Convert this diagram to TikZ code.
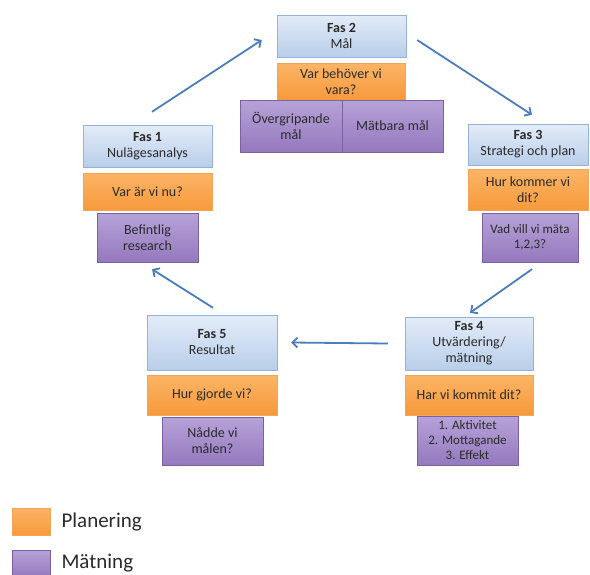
\documentclass[tikz,border=0pt]{standalone}
\usepackage{fontspec}
\setmainfont{Carlito}
\usetikzlibrary{arrows.meta}

\definecolor{fasblue}{HTML}{95B3D7}
\definecolor{fastop}{HTML}{E3ECF8}
\definecolor{fasbot}{HTML}{B9CEEA}
\definecolor{plantop}{HTML}{FBB465}
\definecolor{planbot}{HTML}{F79A3C}
\definecolor{planborder}{HTML}{F2A557}
\definecolor{mattop}{HTML}{B7A2D8}
\definecolor{matbot}{HTML}{9479BE}
\definecolor{matborder}{HTML}{7B61A0}
\definecolor{arrowblue}{HTML}{4A7EBB}
\definecolor{txt}{HTML}{2B2B2B}

\tikzset{
  fasbox/.style={draw=fasblue, top color=fastop, bottom color=fasbot,
    minimum width=129pt, minimum height=42pt, align=center, inner sep=1pt, text=txt},
  planbox/.style={draw=planborder, top color=plantop, bottom color=planbot,
    minimum width=129pt, minimum height=37pt, align=center, inner sep=1pt, text=txt},
  matbox/.style={draw=matborder, top color=mattop, bottom color=matbot,
    minimum width=101pt, minimum height=49pt, align=center, inner sep=1pt, text=txt},
  flow/.style={draw=arrowblue, line width=1.8pt, -{Straight Barb[length=5pt,width=10pt]}}
}

\begin{document}
\begin{tikzpicture}[x=1pt, y=-1pt, font=\fontsize{14}{16}\selectfont]
      \useasboundingbox (0,0) rectangle (590,574);

      % Fas 2
      \node[fasbox] (f2) at (341.5,36) {\textbf{Fas 2}\\Mål};
      \node[planbox, minimum width=128pt] (o2) at (341,81.5) {Var behöver vi\\vara?};
      \node[matbox, minimum height=52pt, minimum width=102pt] (p2a) at (291,126) {Övergripande\\mål};
      \node[matbox, minimum height=52pt] (p2b) at (392.5,126) {Mätbara mål};

      % Fas 1
      \node[fasbox] (f1) at (147.5,146) {\textbf{Fas 1}\\Nulägesanalys};
      \node[planbox] (o1) at (147.5,191.5) {Var är vi nu?};
      \node[matbox] (p1) at (147.5,237.5) {Befintlig\\research};

      % Fas 3
      \node[fasbox, minimum width=120pt, minimum height=41pt] (f3) at (528,144.5) {\textbf{Fas 3}\\Strategi och plan};
      \node[planbox, minimum width=120pt, minimum height=41pt] (o3) at (528,189.5) {Hur kommer vi\\dit?};
      \node[matbox, minimum width=96pt, font=\fontsize{13}{15.5}\selectfont] (p3) at (530,237.5) {Vad vill vi mäta\\1,2,3?};

      % Fas 5
      \node[fasbox, minimum width=130pt, minimum height=55pt] (f5) at (212,342.5) {\textbf{Fas 5}\\Resultat};
      \node[planbox, minimum width=130pt, minimum height=40pt] (o5) at (212,395) {Hur gjorde vi?};
      \node[matbox, minimum height=48pt] (p5) at (212.5,441) {Nådde vi\\målen?};

      % Fas 4
      \node[fasbox, minimum width=128pt, minimum height=53pt] (f4) at (469,343.5) {\textbf{Fas 4}\\Utvärdering/\\mätning};
      \node[planbox, minimum width=128pt, minimum height=40pt] (o4) at (469,395) {Har vi kommit dit?};
      \node[matbox, font=\fontsize{13}{15}\selectfont] (p4) at (467.5,440.5) {1. Aktivitet\\2. Mottagande\\3. Effekt};

      % pilar
      \draw[flow] ([shift={(4.5,-13)}]f1.north) -- ([shift={(-15,4)}]f2.west);
      \draw[flow] ([shift={(11,4)}]f2.east) -- ([shift={(4,-9)}]f3.north);
      \draw[flow] ([shift={(2,7)}]p3.south) -- ([shift={(1,-4)}]f4.north);
      \draw[flow] ([shift={(-17,0)}]f4.west) -- ([shift={(14,0)}]f5.east);
      \draw[flow] ([shift={(1,-7)}]f5.north) -- ([shift={(4.5,7)}]p1.south);

      % legend
      \node[planbox, minimum width=38pt, minimum height=27pt] (lp) at (31,521.5) {};
      \node[matbox, minimum width=38pt, minimum height=27pt] (lm) at (31,563.5) {};
      \node[anchor=west, text=txt, font=\fontsize{21}{24}\selectfont] (lpt) at (58,522) {Planering};
      \node[anchor=west, text=txt, font=\fontsize{21}{24}\selectfont] (lmt) at (58,563) {Mätning};
    \end{tikzpicture}
\end{document}
